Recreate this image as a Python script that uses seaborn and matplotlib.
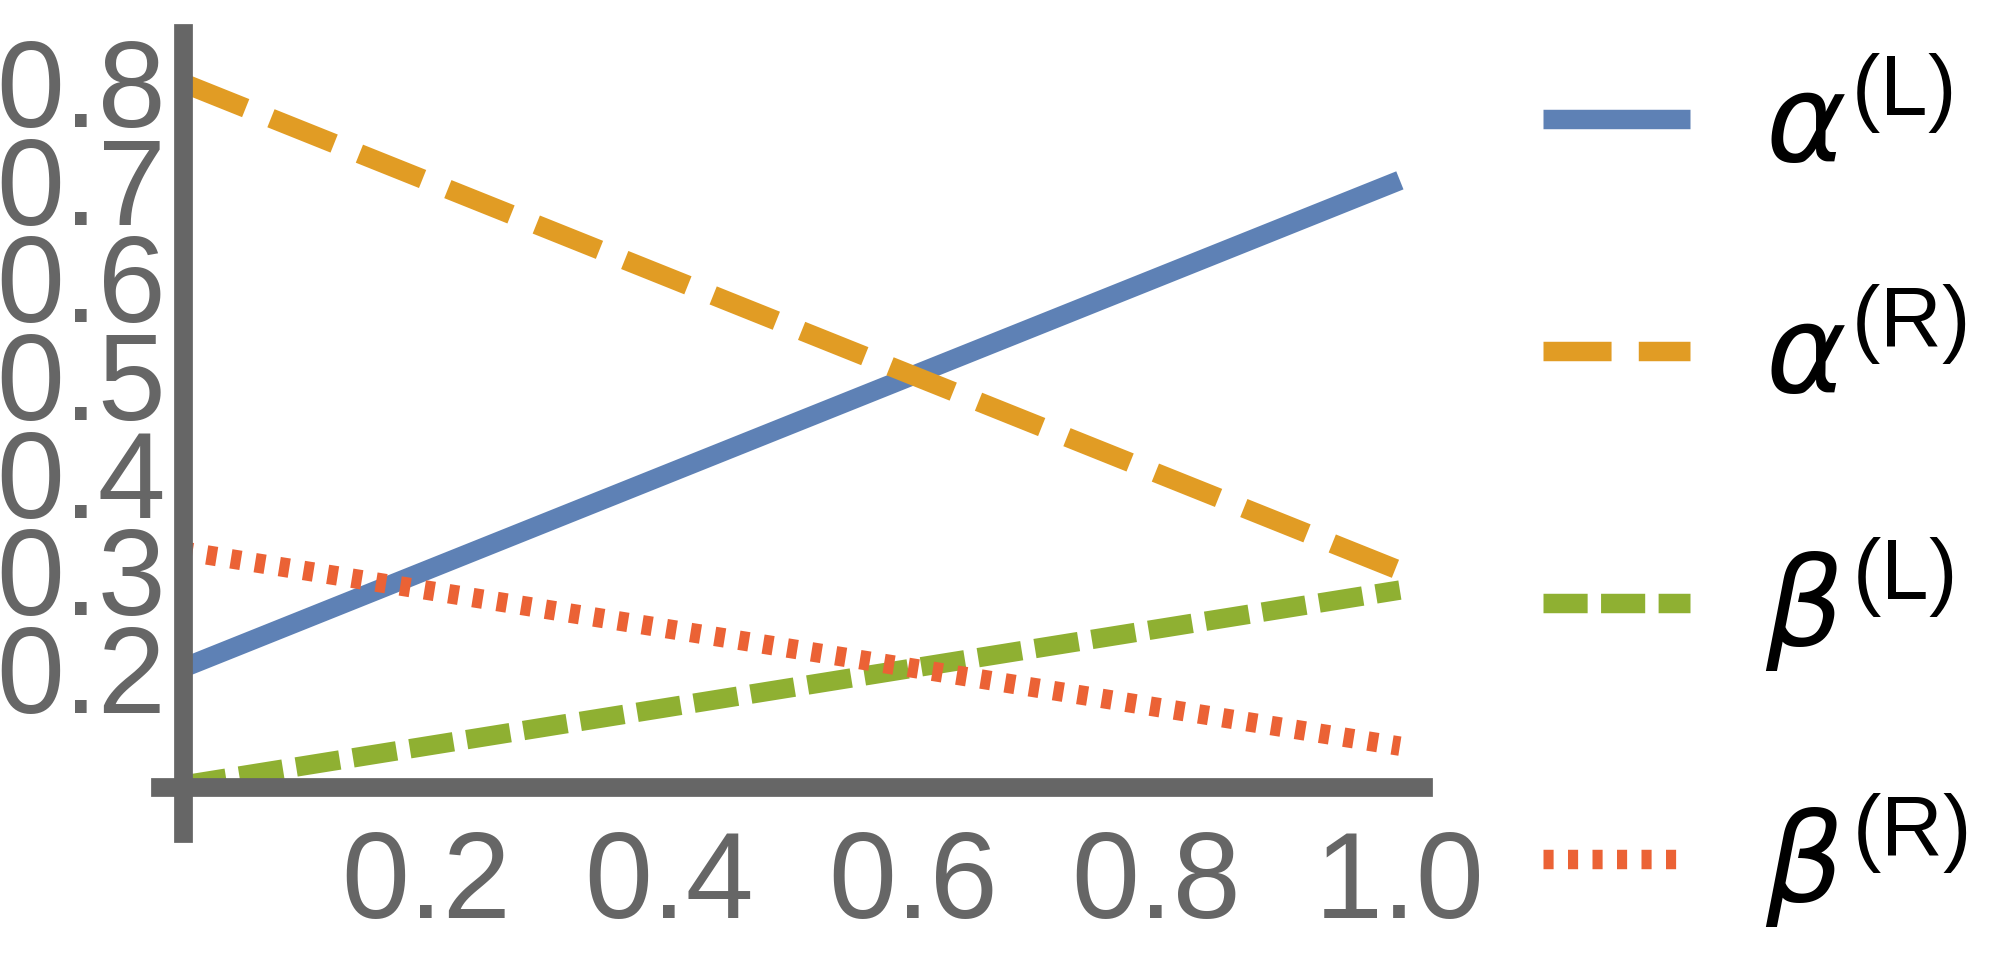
import matplotlib
matplotlib.use("Agg")
import matplotlib.pyplot as plt
import pandas as pd
import seaborn as sns

# values (straight lines from x=0 to x=1)
x_vals = [0.0, 1.0]
alpha_L = [0.2, 0.7]
alpha_R = [0.8, 0.3]
beta_L = [0.08, 0.28]
beta_R = [0.32, 0.12]

series_labels = [
    r"$\alpha^{(\mathrm{L})}$",
    r"$\alpha^{(\mathrm{R})}$",
    r"$\beta^{(\mathrm{L})}$",
    r"$\beta^{(\mathrm{R})}$",
]
colors = ["#5E81B5", "#E19C24", "#8FB032", "#EB6235"]
dash_styles = ["", (3.5, 1.4), (2.27, 0.69), (0.52, 0.74)]

x_ticks = [0.2, 0.4, 0.6, 0.8, 1.0]
x_ticklabels = ["0.2", "0.4", "0.6", "0.8", "1.0"]
y_ticks = [0.1, 0.2, 0.3, 0.4, 0.5, 0.6, 0.7, 0.8]
y_ticklabels = ["", "0.2", "0.3", "0.4", "0.5", "0.6", "0.7", "0.8"]

sns.set_style("white")
plt.rcParams["font.family"] = ["Liberation Sans", "DejaVu Sans"]
plt.rcParams["mathtext.fontset"] = "custom"
plt.rcParams["mathtext.rm"] = "Liberation Sans"
plt.rcParams["mathtext.it"] = "DejaVu Sans:italic"

AXIS_GRAY = "#666666"
LW = 14

df = pd.DataFrame({
    "x": x_vals * 4,
    "value": alpha_L + alpha_R + beta_L + beta_R,
    "series": [lab for lab in series_labels for _ in x_vals],
})

fig = plt.figure(figsize=(20, 9.58), dpi=100)
ax = fig.add_axes([0.08, 0.1305, 0.6315, 0.835])

sns.lineplot(
    data=df, x="x", y="value", hue="series", style="series",
    palette=dict(zip(series_labels, colors)),
    dashes=dict(zip(series_labels, dash_styles)),
    linewidth=LW, sort=False, legend=False, ax=ax,
)
lines = ax.get_lines()[:4]
for line, dash in zip(lines, dash_styles):
    line.set_linewidth(LW)
    if dash:
        line.set_dashes(dash)
    line.set_dash_capstyle("butt")
    line.set_solid_capstyle("butt")

ax.set_xlim(-0.0185, 1.019)
ax.set_ylim(0.031, 0.851)
ax.set_xlabel("")
ax.set_ylabel("")

# Mathematica-style axes crossing inside the plot
for side in ["top", "right"]:
    ax.spines[side].set_visible(False)
ax.spines["left"].set_position(("data", 0.0))
ax.spines["bottom"].set_position(("data", 0.078))
for side in ["left", "bottom"]:
    ax.spines[side].set_color(AXIS_GRAY)
    ax.spines[side].set_linewidth(13.5)

ax.set_xticks(x_ticks)
ax.set_xticklabels(x_ticklabels)
ax.set_yticks(y_ticks)
ax.set_yticklabels(y_ticklabels)
ax.tick_params(axis="both", direction="in", length=12.2, width=14.4,
               color=AXIS_GRAY, labelcolor=AXIS_GRAY, labelsize=88)
ax.tick_params(axis="x", pad=30)
ax.tick_params(axis="y", pad=12)
ax.grid(False)

leg = ax.legend(
    lines, series_labels,
    loc="center left", bbox_to_anchor=(0.7715, 0.477),
    bbox_transform=fig.transFigure, frameon=False,
    fontsize=88, handlelength=1.2, handletextpad=0.62,
    labelspacing=0.96, borderpad=0, borderaxespad=0,
)
for txt in leg.get_texts():
    txt.set_color("black")

fig.savefig("out.png", dpi=100)
